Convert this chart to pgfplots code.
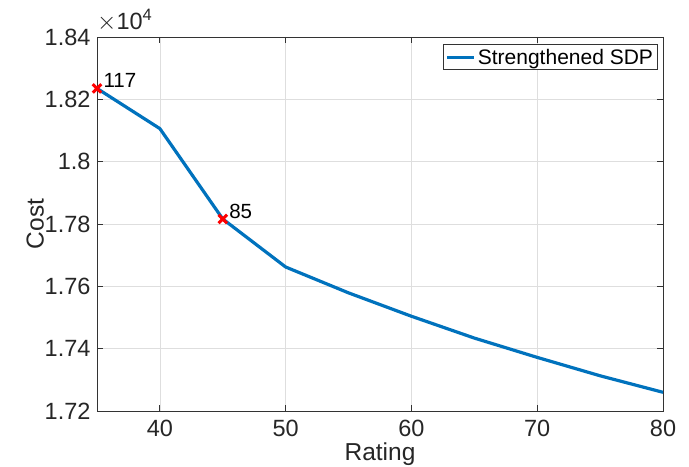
\documentclass[border=0pt]{standalone}
\usepackage{pgfplots}
\pgfplotsset{compat=1.18}
\usepackage{fontspec}
\setmainfont{Liberation Sans}
\definecolor{mblue}{rgb}{0,0.447,0.741}
\begin{document}
\begin{tikzpicture}
\begin{axis}[
  scale only axis,
  width=566pt, height=374pt,
  xmin=35, xmax=80, ymin=17200, ymax=18400,
  xtick={40,50,60,70,80},
  ytick={17200,17400,17600,17800,18000,18200,18400},
  yticklabels={1.72,1.74,1.76,1.78,1.8,1.82,1.84},
  scaled y ticks=false,
  /pgf/number format/assume math mode=true,
  tick label style={font=\fontsize{23.5}{27}\selectfont, color=black!85},
  xticklabel style={yshift=-6pt},
  yticklabel style={xshift=-3pt},
  label style={font=\fontsize{24.5}{28}\selectfont, color=black!85},
  xlabel={Rating}, ylabel={Cost},
  xlabel style={yshift=1pt},
  ylabel style={yshift=-6pt},
  grid=major,
  major grid style={black!13, line width=0.7pt},
  axis line style={black!80, line width=0.8pt},
  tick style={black!80, line width=0.8pt},
  major tick length=6pt,
  tick align=inside,
  legend style={at={(rel axis cs:0.99,0.98)}, anchor=north east, draw=black!80, line width=0.7pt,
    font=\fontsize{21}{24}\selectfont, inner sep=2pt},
  legend cell align=left,
  legend image code/.code={\draw[#1] (0cm,0cm) -- (0.95cm,0cm);},
]
\addplot[mblue, line width=3.2pt] coordinates {
 (35,18235) (40,18106) (45,17816) (50,17662) (55,17579) (60,17504)
 (65,17434) (70,17372) (75,17313) (80,17260)
};
\addlegendentry{Strengthened SDP}
\addplot[red, only marks, mark=x, mark size=6pt, mark options={line width=3pt}, forget plot,
  nodes near coords, point meta=explicit symbolic,
  every node near coord/.style={anchor=south west, font=\fontsize{20.5}{24}\selectfont, black, inner sep=1pt, xshift=4pt, yshift=-2pt}]
 coordinates {(35,18235) [117] (45,17816) [85]};
\end{axis}
\node[anchor=south west, inner sep=0pt, font=\fontsize{23.5}{27}\selectfont, text=black!85] at ([yshift=5pt]current axis.north west) {$\times$10\textsuperscript{4}};
\pgfresetboundingbox
\path (current axis.south west) ++(-97pt,-55pt) rectangle ([shift={(26pt,37pt)}]current axis.north east);
\end{tikzpicture}
\end{document}
